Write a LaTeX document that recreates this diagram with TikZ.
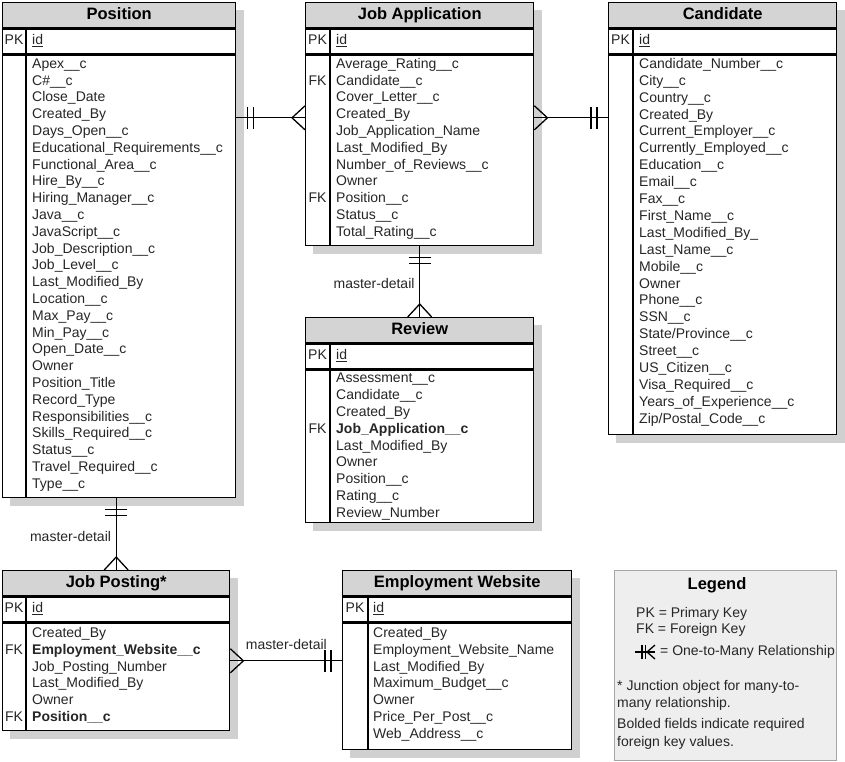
\documentclass[tikz,border=0pt]{standalone}
\usepackage{fontspec}
\setmainfont{Liberation Sans}
\usetikzlibrary{positioning, calc, backgrounds}

\definecolor{headgray}{RGB}{212,212,212}
\definecolor{shadowgray}{RGB}{208,208,208}
\definecolor{legendfill}{RGB}{238,238,238}
\definecolor{legendline}{RGB}{165,165,165}

\begin{document}
\begin{tikzpicture}[
  x=1pt, y=-1pt,
  node distance=0pt,
  every node/.style={inner sep=0pt, text=black!85, font=\fontsize{14}{16.8}\selectfont},
  header/.style={draw=black, line width=1.4pt, rectangle, fill=headgray, minimum height=25pt, text height=12pt, text depth=4.4pt, text=black, font=\fontsize{16.5}{20}\selectfont\bfseries},
  keyrow/.style={draw=black, line width=1.4pt, rectangle, fill=white, minimum height=25pt},
  body/.style={draw=black, line width=1.4pt, rectangle, fill=white},
  field/.style={anchor=base west},
  keytext/.style={anchor=base},
  divider/.style={line width=1.4pt},
  rel/.style={line width=1.3pt},
  reltext/.style={anchor=base east},
  legendbox/.style={draw=legendline, line width=1pt, fill=legendfill, anchor=north west},
  note/.style={anchor=base west},
  onebar/.pic={\draw[rel] (11,-11) -- (11,11) (17,-11) -- (17,11);},
  crow/.pic={\draw[rel] (0,-12) -- (13,0) -- (0,12);}
]
\useasboundingbox (0,0) rectangle (845,761);

% Position
\node[header, minimum width=233pt, anchor=north west] (pos-head) at (2,2) {Position};
\node[keyrow, minimum width=233pt, below=of pos-head] (pos-key) {};
\node[body, minimum width=233pt, minimum height=442pt, below=of pos-key] (pos-body) {};
\draw[divider] ([xshift=24pt]pos-key.north west) -- ([xshift=24pt]pos-body.south west);
\node[keytext] (pos-pk) at ($(pos-key.north west)+(12,16)$) {PK};
\node[field] (pos-id) at ($(pos-key.north west)+(30,16)$) {\underline{id}};
\foreach \f [count=\i from 0] in {Apex\_\_c, C\#\_\_c, Close\_Date, Created\_By, Days\_Open\_\_c,
    Educational\_Requirements\_\_c, Functional\_Area\_\_c, Hire\_By\_\_c, Hiring\_Manager\_\_c,
    Java\_\_c, JavaScript\_\_c, Job\_Description\_\_c, Job\_Level\_\_c, Last\_Modified\_By,
    Location\_\_c, Max\_Pay\_\_c, Min\_Pay\_\_c, Open\_Date\_\_c, Owner, Position\_Title,
    Record\_Type, Responsibilities\_\_c, Skills\_Required\_\_c, Status\_\_c,
    Travel\_Required\_\_c, Type\_\_c}
  \node[field] (pos-\i) at ($(pos-body.north west)+(30,13.5+16.8*\i)$) {\f};

% Job Application
\node[header, minimum width=228pt, anchor=north west] (ja-head) at (305,2) {Job Application};
\node[keyrow, minimum width=228pt, below=of ja-head] (ja-key) {};
\node[body, minimum width=228pt, minimum height=190pt, below=of ja-key] (ja-body) {};
\draw[divider] ([xshift=25pt]ja-key.north west) -- ([xshift=25pt]ja-body.south west);
\node[keytext] (ja-pk) at ($(ja-key.north west)+(12.5,16)$) {PK};
\node[field] (ja-id) at ($(ja-key.north west)+(31,16)$) {\underline{id}};
\foreach \f [count=\i from 0] in {Average\_Rating\_\_c, Candidate\_\_c, Cover\_Letter\_\_c,
    Created\_By, Job\_Application\_Name, Last\_Modified\_By, Number\_of\_Reviews\_\_c, Owner,
    Position\_\_c, Status\_\_c, Total\_Rating\_\_c}
  \node[field] (ja-\i) at ($(ja-body.north west)+(31,13.5+16.8*\i)$) {\f};
\node[keytext] (ja-fk1) at ($(ja-body.north west)+(12.5,13.5+16.8)$) {FK};
\node[keytext] (ja-fk2) at ($(ja-body.north west)+(12.5,13.5+16.8*8)$) {FK};

% Candidate
\node[header, minimum width=228pt, anchor=north west] (cand-head) at (608,2) {Candidate};
\node[keyrow, minimum width=228pt, below=of cand-head] (cand-key) {};
\node[body, minimum width=228pt, minimum height=379pt, below=of cand-key] (cand-body) {};
\draw[divider] ([xshift=25pt]cand-key.north west) -- ([xshift=25pt]cand-body.south west);
\node[keytext] (cand-pk) at ($(cand-key.north west)+(12.5,16)$) {PK};
\node[field] (cand-id) at ($(cand-key.north west)+(31,16)$) {\underline{id}};
\foreach \f [count=\i from 0] in {Candidate\_Number\_\_c, City\_\_c, Country\_\_c, Created\_By,
    Current\_Employer\_\_c, Currently\_Employed\_\_c, Education\_\_c, Email\_\_c, Fax\_\_c,
    First\_Name\_\_c, Last\_Modified\_By\_, Last\_Name\_\_c, Mobile\_\_c, Owner, Phone\_\_c,
    SSN\_\_c, State/Province\_\_c, Street\_\_c, US\_Citizen\_\_c, Visa\_Required\_\_c,
    Years\_of\_Experience\_\_c, Zip/Postal\_Code\_\_c}
  \node[field] (cand-\i) at ($(cand-body.north west)+(31,13.5+16.9*\i)$) {\f};

% Review
\node[header, minimum width=228pt, anchor=north west] (rev-head) at (305,317) {Review};
\node[keyrow, minimum width=228pt, below=of rev-head] (rev-key) {};
\node[body, minimum width=228pt, minimum height=152pt, below=of rev-key] (rev-body) {};
\draw[divider] ([xshift=25pt]rev-key.north west) -- ([xshift=25pt]rev-body.south west);
\node[keytext] (rev-pk) at ($(rev-key.north west)+(12.5,16)$) {PK};
\node[field] (rev-id) at ($(rev-key.north west)+(31,16)$) {\underline{id}};
\foreach \f [count=\i from 0] in {Assessment\_\_c, Candidate\_\_c, Created\_By,
    {\bfseries Job\_Application\_\_c}, Last\_Modified\_By, Owner, Position\_\_c, Rating\_\_c,
    Review\_Number}
  \node[field] (rev-\i) at ($(rev-body.north west)+(31,13+16.8*\i)$) {\f};
\node[keytext] (rev-fk) at ($(rev-body.north west)+(12.5,13+16.8*3)$) {FK};

% Job Posting
\node[header, minimum width=227pt, anchor=north west] (jp-head) at (2,570) {Job Posting*};
\node[keyrow, minimum width=227pt, below=of jp-head] (jp-key) {};
\node[body, minimum width=227pt, minimum height=107pt, below=of jp-key] (jp-body) {};
\draw[divider] ([xshift=24pt]jp-key.north west) -- ([xshift=24pt]jp-body.south west);
\node[keytext] (jp-pk) at ($(jp-key.north west)+(12,16)$) {PK};
\node[field] (jp-id) at ($(jp-key.north west)+(30,16)$) {\underline{id}};
\foreach \f [count=\i from 0] in {Created\_By, {\bfseries Employment\_Website\_\_c},
    Job\_Posting\_Number, Last\_Modified\_By, Owner, {\bfseries Position\_\_c}}
  \node[field] (jp-\i) at ($(jp-body.north west)+(30,15+16.7*\i)$) {\f};
\node[keytext] (jp-fk1) at ($(jp-body.north west)+(12,15+16.7)$) {FK};
\node[keytext] (jp-fk2) at ($(jp-body.north west)+(12,15+16.7*5)$) {FK};

% Employment Website
\node[header, minimum width=229pt, anchor=north west] (ew-head) at (342,570) {Employment Website};
\node[keyrow, minimum width=229pt, below=of ew-head] (ew-key) {};
\node[body, minimum width=229pt, minimum height=126pt, below=of ew-key] (ew-body) {};
\draw[divider] ([xshift=26pt]ew-key.north west) -- ([xshift=26pt]ew-body.south west);
\node[keytext] (ew-pk) at ($(ew-key.north west)+(13,16)$) {PK};
\node[field] (ew-id) at ($(ew-key.north west)+(31,16)$) {\underline{id}};
\foreach \f [count=\i from 0] in {Created\_By, Employment\_Website\_Name, Last\_Modified\_By,
    Maximum\_Budget\_\_c, Owner, Price\_Per\_Post\_\_c, Web\_Address\_\_c}
  \node[field] (ew-\i) at ($(ew-body.north west)+(31,15+16.7*\i)$) {\f};

% Shadows
\begin{scope}[on background layer]
  \foreach \t in {pos, ja, cand, rev, jp, ew}
    \fill[shadowgray] ($(\t-head.north west)+(8,8)$) rectangle ($(\t-body.south east)+(8,8)$);
\end{scope}

% Relationships
\coordinate (r1a) at ($(pos-body.north east)+(0,63)$);
\coordinate (r1b) at ($(ja-body.north west)+(0,63)$);
\draw[rel] (r1a) -- (r1b);
\pic at (r1a) {onebar};
\pic[rotate=180] at (r1b) {crow};

\coordinate (r2a) at ($(ja-body.north east)+(0,63)$);
\coordinate (r2b) at ($(cand-body.north west)+(0,63)$);
\draw[rel] (r2a) -- (r2b);
\pic at (r2a) {crow};
\pic[rotate=180] at (r2b) {onebar};

\coordinate (r3a) at (ja-body.south);
\coordinate (r3b) at (rev-head.north);
\draw[rel] (r3a) -- (r3b);
\pic[rotate=-90] at (r3a) {onebar};
\pic[rotate=90] at (r3b) {crow};
\node[reltext] (r3t) at ($(r3a)+(-5,42)$) {master-detail};

\coordinate (r4a) at (pos-body.south -| jp-head.north);
\coordinate (r4b) at (jp-head.north);
\draw[rel] (r4a) -- (r4b);
\pic[rotate=-90] at (r4a) {onebar};
\pic[rotate=90] at (r4b) {crow};
\node[reltext] (r4t) at ($(r4a)+(-5,43)$) {master-detail};

\coordinate (r5a) at ($(jp-body.north east)+(0,38)$);
\coordinate (r5b) at ($(ew-body.north west)+(0,38)$);
\draw[rel] (r5a) -- (r5b);
\pic at (r5a) {crow};
\pic[rotate=180] at (r5b) {onebar};
\node[reltext] (r5t) at ($(r5b)+(-15,-11)$) {master-detail};

% Legend
\node[legendbox, minimum width=222pt, minimum height=190pt] (legend) at (614,570) {};
\node[anchor=base, text=black, font=\fontsize{16.5}{20}\selectfont\bfseries] (legend-title) at ($(legend.north west)+(103,19)$) {Legend};
\node[note] (legend-pk) at ($(legend.north west)+(22,47)$) {PK = Primary Key};
\node[note] (legend-fk) at ($(legend.north west)+(22,63)$) {FK = Foreign Key};
\coordinate (sym-a) at ($(legend.north west)+(21,82)$);
\coordinate (sym-b) at ($(legend.north west)+(41,82)$);
\draw[rel] (sym-a) -- (sym-b);
\draw[rel] ($(sym-a)+(7,-7)$) -- ++(0,14) ($(sym-a)+(10.5,-7)$) -- ++(0,14);
\draw[rel] ($(sym-b)+(0,-7)$) -- ($(sym-b)+(-8,0)$) -- ($(sym-b)+(0,7)$);
\node[note] (legend-rel) at ($(legend.north west)+(46,85)$) {= One-to-Many Relationship};
\node[note] (legend-j1) at ($(legend.north west)+(3,120)$) {* Junction object for many-to-};
\node[note] (legend-j2) at ($(legend.north west)+(3,137)$) {many relationship.};
\node[note] (legend-b1) at ($(legend.north west)+(3,158)$) {Bolded fields indicate required};
\node[note] (legend-b2) at ($(legend.north west)+(3,176)$) {foreign key values.};

\end{tikzpicture}
\end{document}
